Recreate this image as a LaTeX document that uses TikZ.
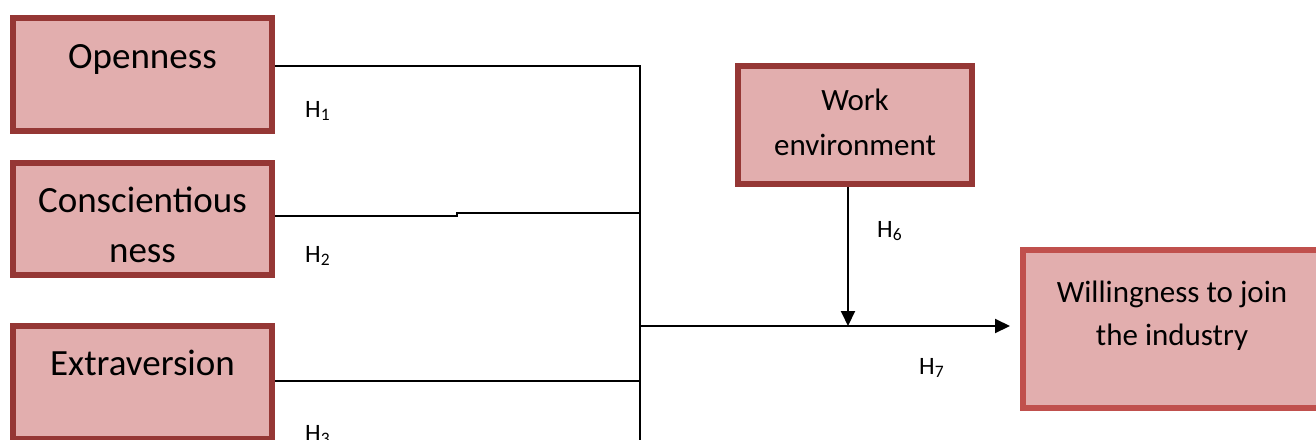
\documentclass[tikz,border=0pt]{standalone}
\usepackage{fontspec}
\setmainfont{Carlito}
\usetikzlibrary{arrows.meta}
\definecolor{boxfill}{HTML}{E2AEAE}
\definecolor{boxdraw}{HTML}{953735}
\definecolor{boxdrawb}{HTML}{C0504D}
\tikzset{
  factor/.style={rectangle, draw=boxdraw, fill=boxfill, line width=6pt, inner sep=0pt},
  outcome/.style={factor, draw=boxdrawb},
  bigtxt/.style={anchor=base, inner sep=0pt, font=\fontsize{37}{44}\selectfont},
  midtxt/.style={anchor=base, inner sep=0pt, font=\fontsize{31}{38}\selectfont},
  hyp/.style={anchor=base west, inner sep=0pt, font=\fontsize{25}{30}\selectfont},
  conn/.style={line width=2pt},
  arr/.style={line width=2pt, -{Triangle[length=15pt,width=14pt]}}
}
\begin{document}
\begin{tikzpicture}[x=1pt,y=-1pt]
\useasboundingbox (0,0) rectangle (1316,439);
% boxes
\node[factor, minimum width=259pt, minimum height=113pt] (open) at (142.5,74.5) {};
\node[factor, minimum width=259pt, minimum height=112pt] (consc) at (142.5,219) {};
\node[factor, minimum width=259pt, minimum height=113pt] (extra) at (142.5,382.5) {};
\node[factor, minimum width=234pt, minimum height=118pt] (work) at (855,125) {};
\node[outcome, minimum width=299pt, minimum height=158pt] (will) at (1172.5,329) {};
% box texts
\node[bigtxt] (topen) at (142.5,68) {Openness};
\node[bigtxt] (tconsca) at (142.5,212) {Conscientious};
\node[bigtxt] (tconscb) at (142.5,262) {ness};
\node[bigtxt] (textra) at (142.5,375) {Extraversion};
\node[midtxt] (tworka) at (855,110) {Work};
\node[midtxt] (tworkb) at (855,155) {environment};
\node[midtxt] (twilla) at (1172,302) {Willingness to join};
\node[midtxt] (twillb) at (1172,345) {the industry};
% junction coordinates
\coordinate (j1) at (640,66);
\coordinate (jstep) at (457,216);
\coordinate (j2) at (640,213);
\coordinate (j3) at (640,381);
\coordinate (jm) at (640,326);
\coordinate (jbot) at (640,445);
\coordinate (jw) at (848,326);
\coordinate (jtip) at (1010,326);
% connectors
\draw[conn] (open.east |- j1) -- (j1) -- (jm);
\draw[conn] (consc.east |- jstep) -- (jstep) -- (jstep |- j2) -- (j2);
\draw[conn] (extra.east |- j3) -- (j3);
\draw[line width=1.5pt] (jm) -- (jbot);
\draw[arr] (jm) -- (jtip);
\draw[arr] (work.south -| jw) -- (jw);
% hypothesis labels
\node[hyp] (h1) at (305,117) {H\textsubscript{1}};
\node[hyp] (h2) at (305,262) {H\textsubscript{2}};
\node[hyp] (h3) at (305,441) {H\textsubscript{3}};
\node[hyp] (h6) at (877,237) {H\textsubscript{6}};
\node[hyp] (h7) at (919,374) {H\textsubscript{7}};
\end{tikzpicture}
\end{document}
